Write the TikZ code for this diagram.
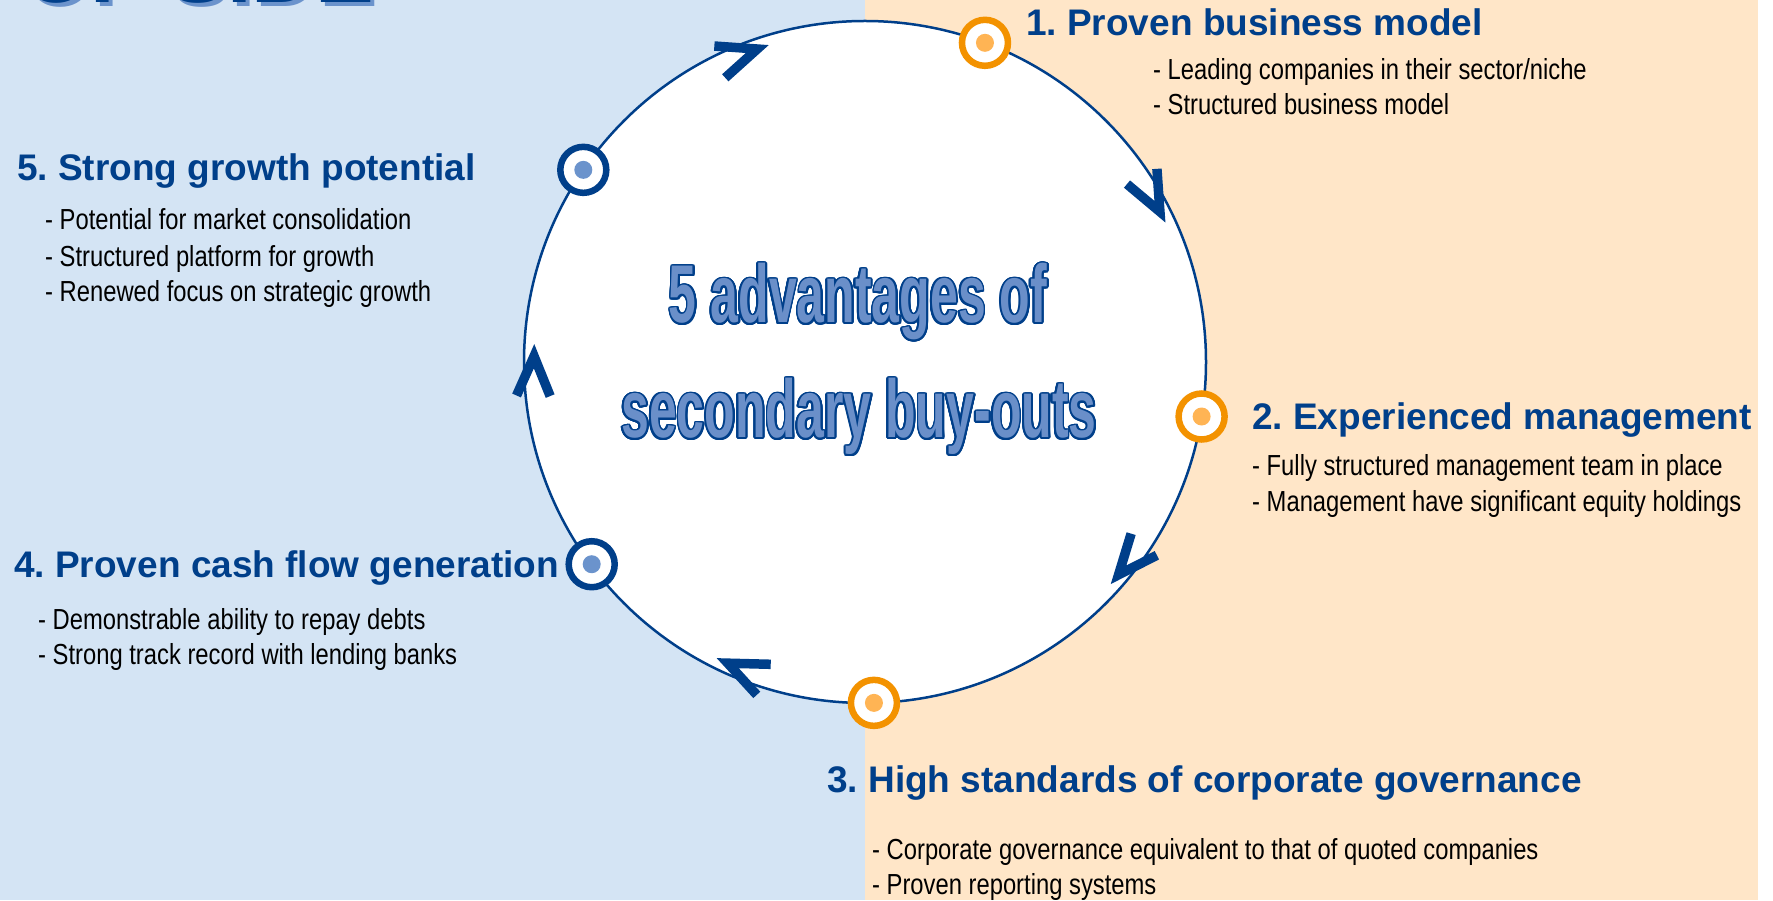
\documentclass[tikz,border=0pt]{standalone}
\usepackage{fontspec}
\usepackage{contour}
\usetikzlibrary{calc}
\setmainfont{Liberation Sans}
\newfontfamily\narrowfont{Liberation Sans}[FakeStretch=0.82]
\newfontfamily\wordartfont{Liberation Sans Bold}[FakeStretch=0.61]
\frenchspacing

\definecolor{leftbg}{RGB}{212,228,244}
\definecolor{rightbg}{RGB}{255,230,200}
\definecolor{navy}{RGB}{0,63,138}
\definecolor{ringorange}{RGB}{243,146,0}
\definecolor{dotorange}{RGB}{255,180,84}
\definecolor{dotblue}{RGB}{107,147,204}
\definecolor{artfill}{RGB}{106,143,201}

\contourlength{1.8pt}
\contournumber{24}

\tikzset{
  heading/.style={anchor=base west, inner sep=0pt, text=navy,
    font=\fontsize{37}{44}\selectfont\bfseries},
  bullet/.style={anchor=base west, inner sep=0pt, text=black,
    font=\narrowfont\fontsize{29}{35}\selectfont},
  wordart/.style={anchor=base, inner sep=0pt,
    font=\wordartfont\fontsize{82}{96}\selectfont},
  ringmark/.style={circle, draw=#1, line width=6.5pt, fill=white,
    minimum size=46pt, inner sep=0pt},
  chevron/.style={draw=navy, line width=9.5pt, miter limit=10, line join=miter},
}

\begin{document}
\begin{tikzpicture}[x=1pt,y=1pt]
\useasboundingbox (0,0) rectangle (1773,900);
\begin{scope}
\clip (0,0) rectangle (1773,900);
% two background panels
\fill[white] (0,0) rectangle (1773,900);
\fill[leftbg] (0,0) rectangle (865,900);
\fill[rightbg] (865,0) rectangle (1758,900);

% banner lettering running off the top edge
\node[anchor=base west, inner sep=0pt, text=dotblue,
  font=\fontsize{88}{100}\selectfont\bfseries] (bannershadow) at (26,893) {OF SIDE};
\node[anchor=base west, inner sep=0pt, text=navy,
  font=\fontsize{88}{100}\selectfont\bfseries] (banner) at (22,897) {OF SIDE};

% cycle circle
\coordinate (C) at (865,538);
\node[circle, draw=navy, line width=2.5pt, fill=white, minimum size=682pt,
  inner sep=0pt] (cycle) at (C) {};

% clockwise chevrons on the circle
\foreach \a in {109,27,-40,-114.5,179} {
  \draw[chevron] ($(C)+(\a:331)$) ++(\a+113:43) -- ($(C)+(\a:331)$) -- ++(\a+67:43);
}

% step markers
\node[ringmark=ringorange] (m1) at ($(C)+(69.4:341)$) {};
\node[ringmark=ringorange] (m2) at ($(C)+(-9.2:341)$) {};
\node[ringmark=ringorange] (m3) at ($(C)+(-88.5:341)$) {};
\node[ringmark=navy] (m4) at ($(C)+(-143.5:340)$) {};
\node[ringmark=navy] (m5) at ($(C)+(145.7:341)$) {};
\foreach \m in {m1,m2,m3} \fill[dotorange] (\m) circle (9);
\foreach \m in {m4,m5} \fill[dotblue] (\m) circle (9);

% centre title
\node[wordart] (title1) at (858,577) {\contour{navy}{\textcolor{artfill}{5 advantages of}}};
\node[wordart] (title2) at (859,462) {\contour{navy}{\textcolor{artfill}{secondary buy-outs}}};

% 1
\node[heading] (h1) at (1026,864) {1. Proven business model};
\node[bullet] (b1a) at (1153,820) {- Leading companies in their sector/niche};
\node[bullet] (b1b) at (1153,785) {- Structured business model};
% 2
\node[heading] (h2) at (1252,470) {2. Experienced management};
\node[bullet] (b2a) at (1252,424) {- Fully structured management team in place};
\node[bullet] (b2b) at (1252,388) {- Management have significant equity holdings};
% 3
\node[heading] (h3) at (827,107) {3. High standards of corporate governance};
\node[bullet] (b3a) at (872,41) {- Corporate governance equivalent to that of quoted companies};
\node[bullet] (b3b) at (872,6) {- Proven reporting systems};
% 4
\node[heading] (h4) at (14,322) {4. Proven cash flow generation};
\node[bullet] (b4a) at (38,270) {- Demonstrable ability to repay debts};
\node[bullet] (b4b) at (38,235) {- Strong track record with lending banks};
% 5
\node[heading] (h5) at (17,719) {5. Strong growth potential};
\node[bullet] (b5a) at (45,670) {- Potential for market consolidation};
\node[bullet] (b5b) at (45,633) {- Structured platform for growth};
\node[bullet] (b5c) at (45,598) {- Renewed focus on strategic growth};
\end{scope}
\end{tikzpicture}
\end{document}
